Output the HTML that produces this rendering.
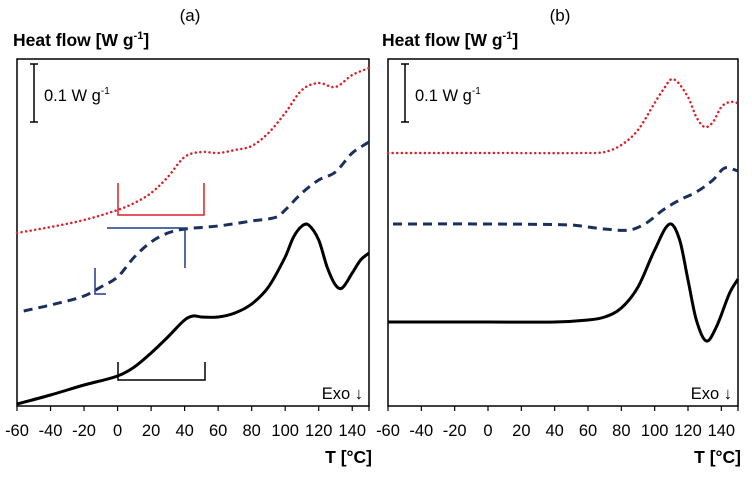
<!DOCTYPE html>
<html><head><meta charset="utf-8"><style>
body{margin:0;background:#fff;}
svg{display:block;font-family:"Liberation Sans",Arial,sans-serif;}
</style></head><body>
<svg id="c" width="752" height="479" viewBox="0 0 752 479"></svg>
<script>
// x ticks
const tickLabels=[-60,-40,-20,0,20,40,60,80,100,120,140];
// Panel a data (T °C, relative heat flow units)
const aBlackT=[-60,-40,-20,0,10,20,30,40,45,50,60,70,80,90,100,105,110,114,120,125,130,134,140,145,150];
const aBlackV=[2,11,21,30,39,53,69,86,90,89,89,93,102,119,149,169,180,181,166,139,121,118,133,146,153];
const aRedT=[-60,-40,-20,0,10,20,30,40,50,60,70,80,90,100,110,120,130,140,150];
const aRedV=[173,179,186,196,203,213,229,249,254,253,256,260,273,293,316,323,319,331,338];
const aBlueT=[-56,-40,-20,-10,0,10,20,30,40,60,80,95,100,110,120,130,140,150];
const aBlueV=[95,101,110,119,129,149,164,173,177,180,185,189,196,213,226,234,253,264];
// Panel b data
const bRedT=[-60,0,60,70,80,90,100,105,111,120,125,130,135,140,145,150];
const bRedV=[253,253,253,254,261,276,303,316,327,309,289,279,284,299,304,303];
const bBlueT=[-57,0,50,60,70,85,95,105,115,125,135,142,150];
const bBlueV=[182,182,181,179,177,176,183,196,206,214,226,238,235];
const bBlackT=[-60,0,40,60,70,80,90,100,109,115,120,125,131,137,145,150];
const bBlackV=[84,84,84,86,89,98,119,156,182,166,126,86,65,79,113,127];

const svg=document.getElementById('c');
const NS='http://www.w3.org/2000/svg';
function mk(tag,attrs,parent){const e=document.createElementNS(NS,tag);for(const k in attrs)e.setAttribute(k,attrs[k]);(parent||svg).appendChild(e);return e;}

function panel(p){
  const g=mk('g',{});
  
  
  const x=t=>p.x0+(t+60)*(p.x1-p.x0)/210;
  const y=v=>406-v;
  const t1=mk('text',{x:(p.x0+p.x1)/2-3,y:21,'font-size':17,'text-anchor':'middle',fill:'#000'},g);t1.textContent='('+p.id+')';
  
  const yt=mk('text',{x:p.hx,y:46,'font-size':17.5,'font-weight':'bold',fill:'#000'},g);
  yt.innerHTML='Heat flow [W g<tspan dy="-7" font-size="11">-1</tspan><tspan dy="7">]</tspan>';
  
  const fr=mk('rect',{x:p.x0,y:59,width:p.x1-p.x0,height:347,fill:'none',stroke:'#000','stroke-width':1.5},g);
  
  tickLabels.forEach(t=>{
    mk('line',{x1:x(t),x2:x(t),y1:406,y2:411,stroke:'#000','stroke-width':1.2},g);
    const tl=mk('text',{x:x(t),y:436,'font-size':16.5,'text-anchor':'middle',fill:'#000'},g);tl.textContent=t;
    
  });
  mk('line',{x1:p.x1,x2:p.x1,y1:406,y2:411,stroke:'#000','stroke-width':1.2},g);
  const xt=mk('text',{x:p.x1+3,y:463,'font-size':17.5,'font-weight':'bold','text-anchor':'end',fill:'#000'},g);xt.textContent='T [°C]';
  
  const sb=p.x0+17;
  const sbg=mk('g',{stroke:'#000','stroke-width':1.5},g);
  
  mk('line',{x1:sb,x2:sb,y1:64,y2:122},sbg);mk('line',{x1:sb-4,x2:sb+4,y1:64,y2:64},sbg);mk('line',{x1:sb-4,x2:sb+4,y1:122,y2:122},sbg);
  const st=mk('text',{x:sb+10,y:101,'font-size':16.5,fill:'#000'},g);
  st.innerHTML='0.1 W g<tspan dy="-7" font-size="10">-1</tspan>';
  
  const ex=mk('text',{x:p.x1-6,y:399,'font-size':16.5,'text-anchor':'end',fill:'#000'},g);ex.textContent='Exo ↓';
  
  p.series.forEach(s=>{
    const pts=s.T.map((t,i)=>[x(t),y(s.V[i])]);
    let d='M'+pts[0][0]+','+pts[0][1];
    for(let i=0;i<pts.length-1;i++){
      const p0=pts[Math.max(0,i-1)],p1=pts[i],p2=pts[i+1],p3=pts[Math.min(pts.length-1,i+2)];
      const h=p2[0]-p1[0];
      const m1=(p2[1]-p0[1])/((p2[0]-p0[0])||1);
      const m2=(p3[1]-p1[1])/((p3[0]-p1[0])||1);
      const c1=[p1[0]+h/3,p1[1]+m1*h/3];
      const c2=[p2[0]-h/3,p2[1]-m2*h/3];
      d+=' C'+c1[0]+','+c1[1]+' '+c2[0]+','+c2[1]+' '+p2[0]+','+p2[1];
    }
    const path=mk('path',{d:d,fill:'none',stroke:s.c,'stroke-width':s.w,'stroke-dasharray':s.dash||'none','stroke-linecap':s.cap||'butt'},g);
    
    
  });
  (p.brackets||[]).forEach(b=>{
    const br=mk('polyline',{points:b.pts,fill:'none',stroke:b.c,'stroke-width':1.5},g);
    
    
  });
}
panel({id:'a',x0:17,x1:369,hx:13,series:[
  {T:aRedT,V:aRedV,c:'#d9232a',w:2.5,dash:'0.1 4.5',cap:'round',name:'series-red-dotted'},
  {T:aBlueT,V:aBlueV,c:'#1b2f5e',w:3,dash:'9 6',name:'series-blue-dashed'},
  {T:aBlackT,V:aBlackV,c:'#000',w:3,name:'series-black-solid'}],
  brackets:[
  {pts:'118,183 118,215 204,215 204,183',c:'#d9232a',name:'tg-bracket-red'},
  {pts:'107,228 185,228 185,268',c:'#1b3a8a',name:'tg-bracket-blue'},
  {pts:'95,268 95,294 106,294',c:'#1b3a8a',name:'tg-bracket-blue-small'},
  {pts:'118,362 118,380 205,380 205,362',c:'#000',name:'tg-bracket-black'}]});
panel({id:'b',x0:388,x1:738,hx:382,series:[
  {T:bRedT,V:bRedV,c:'#d9232a',w:2.5,dash:'0.1 4.5',cap:'round',name:'series-red-dotted'},
  {T:bBlueT,V:bBlueV,c:'#1b2f5e',w:3,dash:'9 6',name:'series-blue-dashed'},
  {T:bBlackT,V:bBlackV,c:'#000',w:3,name:'series-black-solid'}]});
</script>
</body></html>
